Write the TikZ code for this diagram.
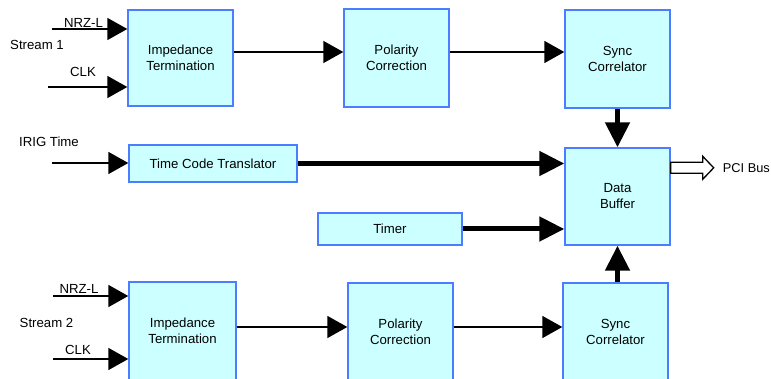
\documentclass[tikz,border=0pt]{standalone}
\usepackage{fontspec}
\setmainfont{Liberation Sans}
\usetikzlibrary{arrows.meta}

\definecolor{boxfill}{HTML}{CCFFFF}
\definecolor{boxedge}{HTML}{4A7DFF}

\begin{document}
\begin{tikzpicture}[x=1pt,y=-1pt,
  every node/.style={font=\fontsize{13.2}{16}\selectfont, inner sep=0pt},
  blk/.style={draw=boxedge, fill=boxfill, line width=1.4pt, align=center,
              minimum width=105pt, minimum height=98pt},
  thinflow/.style={line width=1.5pt, -{Triangle[length=20pt,width=22pt]}},
  thickflow/.style={line width=5pt, -{Triangle[length=25pt,width=24pt]}},
  lbl/.style={anchor=center}]
\clip (0,0) rectangle (771,379);

% processing blocks
\node[blk, minimum height=96pt] (imp1) at (180.5,58) {Impedance\\Termination};
\node[blk] (pol1) at (396.5,58) {Polarity\\Correction};
\node[blk] (sync1) at (617.5,59) {Sync\\Correlator};
\node[blk, minimum width=168pt, minimum height=37pt] (tct) at (213,163.5) {Time Code Translator};
\node[blk, minimum width=144pt, minimum height=32pt] (timer) at (390,229) {Timer};
\node[blk, minimum height=97pt] (buf) at (617.5,196.5) {Data\\Buffer};
\node[blk, minimum width=107pt] (imp2) at (182.5,331) {Impedance\\Termination};
\node[blk] (pol2) at (400.5,332) {Polarity\\Correction};
\node[blk] (sync2) at (615.5,332) {Sync\\Correlator};

% signal levels and free input ends
\coordinate (row1) at (0,52);
\coordinate (row2) at (0,327);
\coordinate (nrz1) at (52,29);
\coordinate (clk1) at (48,87);
\coordinate (irig) at (52,163);
\coordinate (nrz2) at (53,296);
\coordinate (clk2) at (53,359);

% inputs
\draw[thinflow] (nrz1) -- (nrz1 -| imp1.west);
\draw[thinflow] (clk1) -- (clk1 -| imp1.west);
\draw[thinflow] (irig) -- (irig -| tct.west);
\draw[thinflow] (nrz2) -- (nrz2 -| imp2.west);
\draw[thinflow] (clk2) -- (clk2 -| imp2.west);

% stream chains
\draw[thinflow] (imp1.east |- row1) -- (pol1.west |- row1);
\draw[thinflow] (pol1.east |- row1) -- (sync1.west |- row1);
\draw[thinflow] (imp2.east |- row2) -- (pol2.west |- row2);
\draw[thinflow] (pol2.east |- row2) -- (sync2.west |- row2);

% into the data buffer
\draw[thickflow] (sync1.south) -- (buf.north);
\draw[thickflow] (buf.south |- sync2.north) -- (buf.south);
\draw[thickflow] (tct.east) -- (tct.east -| buf.west);
\draw[thickflow] (timer.east) -- (timer.east -| buf.west);

% hollow output arrow to the PCI bus
\path (buf.north east) ++(0,20.5) coordinate (pcitail);
\draw[line width=1.3pt, fill=white, line join=miter]
  (pcitail) ++(0,-5.5) -- ++(32,0) -- ++(0,-6) -- ++(11,11.5)
  -- ++(-11,11.5) -- ++(0,-6) -- ++(-32,0) -- cycle;
\node[anchor=west, font=\fontsize{12.8}{16}\selectfont] (pci) at ([xshift=52pt]pcitail) {PCI Bus};

% text labels
\node[lbl] (s1) at (37,45) {Stream 1};
\node[lbl] (nrzl1) at (83.5,23) {NRZ-L};
\node[lbl] (clkl1) at (83,72) {CLK};
\node[lbl] (irigl) at (49,142) {IRIG Time};
\node[lbl] (s2) at (46.5,323) {Stream 2};
\node[lbl] (nrzl2) at (79,289) {NRZ-L};
\node[lbl] (clkl2) at (78,350) {CLK};
\end{tikzpicture}
\end{document}
